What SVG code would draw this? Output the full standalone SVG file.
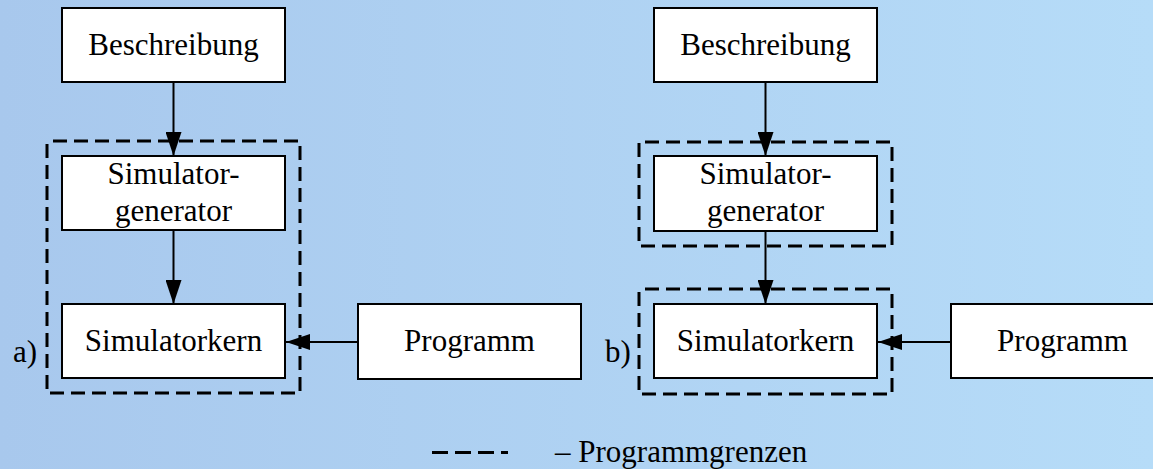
<svg xmlns="http://www.w3.org/2000/svg" width="1153" height="469" viewBox="0 0 1153 469">
  <defs>
    <linearGradient id="bg" x1="0" y1="0" x2="1" y2="0">
      <stop offset="0" stop-color="#a8c8ed"/>
      <stop offset="1" stop-color="#b6dcf8"/>
    </linearGradient>
    <marker id="ah" markerUnits="userSpaceOnUse" markerWidth="24" markerHeight="16" viewBox="0 0 24 16" refX="24" refY="8" orient="auto">
      <path d="M0,0 L24,8 L0,16 Z" fill="#000"/>
    </marker>
  </defs>
  <style>
    .box { fill: #fff; stroke: #000; stroke-width: 2; }
    .bound { fill: none; stroke: #000; stroke-width: 3; stroke-dasharray: 14 7; stroke-dashoffset: -6; }
    .conn { stroke: #000; stroke-width: 2; fill: none; marker-end: url(#ah); }
    text { font-family: "Liberation Serif", "Times New Roman", serif; font-size: 31px; fill: #000; }
    .c { text-anchor: middle; }
  </style>
  <rect x="0" y="0" width="1153" height="469" fill="url(#bg)"/>

  <g id="boundaries">
    <rect class="bound" x="47" y="141" width="253" height="252"/>
    <rect class="bound" x="639" y="142" width="253" height="104"/>
    <rect class="bound" x="639" y="289" width="253" height="105"/>
  </g>

  <g id="connectors">
    <line class="conn" x1="173.5" y1="82" x2="173.5" y2="156"/>
    <line class="conn" x1="173.5" y1="230" x2="173.5" y2="304"/>
    <line class="conn" x1="358" y1="342" x2="286" y2="342"/>
    <line class="conn" x1="765.5" y1="82" x2="765.5" y2="156"/>
    <line class="conn" x1="765.5" y1="231" x2="765.5" y2="304"/>
    <line class="conn" x1="951" y1="342" x2="878" y2="342"/>
  </g>

  <g id="a-beschreibung">
    <rect class="box" x="62" y="8" width="223" height="74"/>
    <text class="c" x="173.5" y="55">Beschreibung</text>
  </g>
  <g id="a-generator">
    <rect class="box" x="62" y="156" width="223" height="74"/>
    <text class="c" x="173.5" y="184">Simulator-</text>
    <text class="c" x="173.5" y="221">generator</text>
  </g>
  <g id="a-kern">
    <rect class="box" x="62" y="304" width="223" height="74"/>
    <text class="c" x="173.5" y="351">Simulatorkern</text>
  </g>
  <g id="a-programm">
    <rect class="box" x="358" y="304" width="223" height="75"/>
    <text class="c" x="469.5" y="351">Programm</text>
  </g>
  <g id="a-label">
    <text x="13" y="362">a)</text>
  </g>

  <g id="b-beschreibung">
    <rect class="box" x="654" y="8" width="223" height="74"/>
    <text class="c" x="765.5" y="55">Beschreibung</text>
  </g>
  <g id="b-generator">
    <rect class="box" x="654" y="156" width="223" height="75"/>
    <text class="c" x="765.5" y="184">Simulator-</text>
    <text class="c" x="765.5" y="221">generator</text>
  </g>
  <g id="b-kern">
    <rect class="box" x="654" y="304" width="223" height="74"/>
    <text class="c" x="765.5" y="351">Simulatorkern</text>
  </g>
  <g id="b-programm">
    <rect class="box" x="951" y="304" width="223" height="74"/>
    <text class="c" x="1062.5" y="351">Programm</text>
  </g>
  <g id="b-label">
    <text x="605" y="362">b)</text>
  </g>

  <g id="legend">
    <line x1="432" y1="452.5" x2="508" y2="452.5" stroke="#000" stroke-width="3" stroke-dasharray="16 7"/>
    <text x="555" y="462">– Programmgrenzen</text>
  </g>
</svg>
